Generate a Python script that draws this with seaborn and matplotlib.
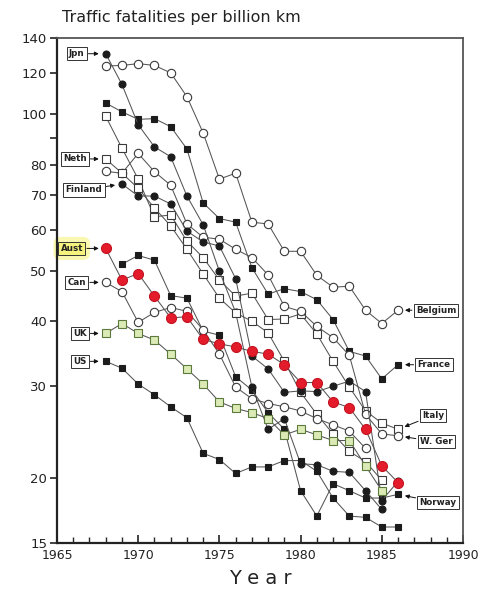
import numpy as np
import pandas as pd
import matplotlib
matplotlib.use("Agg")
import matplotlib.pyplot as plt
from matplotlib.ticker import FixedLocator, NullLocator, MultipleLocator, FixedFormatter
import seaborn as sns

# values (fatalities per billion km), one list per country
jpn = [130.6, 114, 95.4, 86.5, 82.8, 69.6, 61.3, 49.9, 41.6, 29.9, 24.8, 26.0, 21.3, 21.2, 20.6, 20.5, 18.9, 17.4]
finland = [73.4, 69.6, 69.6, 67.2, 59.6, 56.8, 55.8, 48.3, 34.3, 32.4, 29.2, 29.4, 29.3, 30.0, 30.7, 29.3, 18.1, 19.7]
belgium = [123.7, 124, 125, 124, 120, 108, 92, 75, 77, 62, 61.5, 54.5, 54.5, 49, 46.5, 46.7, 42, 39.6, 42]
france = [105, 101, 97.7, 98, 94.6, 85.7, 67.5, 63, 62, 50.7, 45.1, 46.2, 45.6, 44, 40.3, 35, 34.3, 31, 33]
italy = [99, 86, 75, 63.5, 64, 57, 53, 48, 44.7, 45.3, 40.3, 40.4, 41.3, 37.8, 33.5, 29.9, 26.9, 25.5, 24.8]
neth = [82, 77, 72, 66, 61, 55, 49.3, 44.3, 41.5, 40.0, 38.0, 33.5, 29.2, 26.5, 24.3, 22.5, 21.5, 19.8]
wger = [77.6, 77, 84, 77.5, 73, 61.5, 58, 57.5, 55, 53, 49.1, 42.7, 41.8, 39.1, 37.2, 34.4, 26.5, 24.3, 24.1]
can = [47.5, 45.6, 39.8, 41.6, 42.5, 41.8, 38.5, 34.6, 29.9, 28.4, 27.8, 27.4, 26.9, 26.0, 25.3, 24.6, 22.8]
aust = [55.2, 48, 49.4, 44.7, 40.6, 40.8, 36.9, 36.2, 35.7, 35.0, 34.6, 33.0, 30.5, 30.5, 28.0, 27.3, 24.8, 21.1, 19.6]
uk = [37.9, 39.6, 37.9, 36.8, 34.6, 32.4, 30.3, 28.0, 27.2, 26.7, 26.0, 24.2, 24.8, 24.2, 23.6, 23.6, 21.1, 18.9]
us = [33.5, 32.5, 30.3, 28.9, 27.4, 26.1, 22.3, 21.7, 20.4, 21.0, 21.0, 21.6, 21.6, 20.6, 18.3, 16.9, 16.8, 16.1, 16.1]
norway = [51.5, 53.5, 52.4, 44.8, 44.3, 38.3, 37.6, 31.3, 29.5, 26.7, 24.8, 18.9, 16.9, 19.5, 18.9, 18.3, 18.3, 18.6]

# first year of each series
start = {"Jpn": 1968, "Finland": 1969, "Belgium": 1968, "France": 1968, "Italy": 1968,
         "Neth": 1968, "W. Ger": 1968, "Can": 1968, "Aust": 1968, "UK": 1968,
         "US": 1968, "Norway": 1969}

ytick_vals = [15, 20, 30, 40, 50, 60, 70, 80, 90, 100, 120, 140]
ytick_labels = ["15", "20", "30", "40", "50", "60", "70", "80", "", "100", "120", "140"]

LINE = "#555555"
DARK = "#1c1c1c"
styles = {
    "fc": dict(marker="o", markerfacecolor=DARK, markeredgecolor=DARK, markersize=5),
    "oc": dict(marker="o", markerfacecolor="white", markeredgecolor="#3a3a3a", markersize=6),
    "fs": dict(marker="s", markerfacecolor=DARK, markeredgecolor=DARK, markersize=5),
    "os": dict(marker="s", markerfacecolor="white", markeredgecolor="#3a3a3a", markersize=5.4),
    "red": dict(marker="o", markerfacecolor="#e31b2b", markeredgecolor="#c41420", markersize=7.2),
    "green": dict(marker="s", markerfacecolor="#dcebb6", markeredgecolor="#5c7a3c", markersize=5.4),
}

# name, values, style, label side, label offset in pixels
series = [
    ("Belgium", belgium, "oc", "right", (38, 0)),
    ("France", france, "fs", "right", (36, 0)),
    ("Italy", italy, "os", "right", (35, 14)),
    ("W. Ger", wger, "oc", "right", (38, -6)),
    ("Norway", norway, "fs", "right", (40, -8)),
    ("Jpn", jpn, "fc", "left", (-29, 0)),
    ("Neth", neth, "os", "left", (-31, 0)),
    ("Finland", finland, "fc", "left", (-38, -6)),
    ("Can", can, "oc", "left", (-29, 0)),
    ("US", us, "fs", "left", (-26, 0)),
    ("UK", uk, "green", "left", (-26, 0)),
    ("Aust", aust, "red", "left", (-34, 0)),
]

sns.set_style("ticks")
plt.rcParams["font.family"] = ["DejaVu Sans"]

fig = plt.figure(figsize=(4.78, 5.89), dpi=100)
ax = fig.add_axes([57 / 478, 46 / 589, 406 / 478, 505 / 589])

for i, (name, vals, st, side, off) in enumerate(series):
    years = np.arange(start[name], start[name] + len(vals))
    df = pd.DataFrame({"year": years, "rate": vals})
    sns.lineplot(data=df, x="year", y="rate", ax=ax, color=LINE, lw=0.75,
                 estimator=None, sort=False, legend=False, zorder=3 + i,
                 markeredgewidth=0.8, **styles[st])
    if side == "left":
        xy = (years[0], vals[0])
    else:
        xy = (years[-1], vals[-1])
    box = dict(boxstyle="square,pad=0.25", fc="white", ec="#333333", lw=0.7)
    if name == "Aust":
        box["fc"] = "#f6f27e"
        ax.annotate("Aust", xy=xy, xytext=off, textcoords="offset pixels",
                    ha="center", va="center", fontsize=6.3, fontweight="bold",
                    color="none", zorder=1,
                    bbox=dict(boxstyle="round,pad=0.8", fc="#faf8b0", ec="none"))
    ax.annotate(name, xy=xy, xytext=off, textcoords="offset pixels",
                ha="center", va="center", fontsize=6.3, fontweight="bold",
                color="#222222", bbox=box, zorder=30,
                arrowprops=dict(arrowstyle="-|>", color="#111111", lw=0.7,
                                shrinkA=1, shrinkB=5, mutation_scale=6))

ax.set_yscale("log")
ax.set_ylim(15, 140)
ax.set_xlim(1965, 1990)
ax.yaxis.set_major_locator(FixedLocator(ytick_vals))
ax.yaxis.set_major_formatter(FixedFormatter(ytick_labels))
ax.yaxis.set_minor_locator(NullLocator())
ax.xaxis.set_major_locator(MultipleLocator(5))
ax.xaxis.set_minor_locator(MultipleLocator(1))

ax.tick_params(axis="y", direction="out", length=5, width=1.2, labelsize=9.5, pad=2, colors="#222222")
ax.tick_params(axis="x", which="major", direction="in", length=6, width=1.2, labelsize=9, pad=4, colors="#222222")
ax.tick_params(axis="x", which="minor", direction="in", length=4, width=1.0)

for s in ["left", "bottom"]:
    ax.spines[s].set_linewidth(1.6)
    ax.spines[s].set_color("#222222")
for s in ["top", "right"]:
    ax.spines[s].set_linewidth(1.3)
    ax.spines[s].set_color("#555555")

ax.set_xlabel("Y e a r", fontsize=14, color="#222222", labelpad=5)
ax.set_ylabel("")
fig.text(62 / 478, 1 - 22 / 589, "Traffic fatalities per billion km", fontsize=11.5,
         color="#222222", va="baseline", ha="left")

fig.savefig("out.png", dpi=100)
